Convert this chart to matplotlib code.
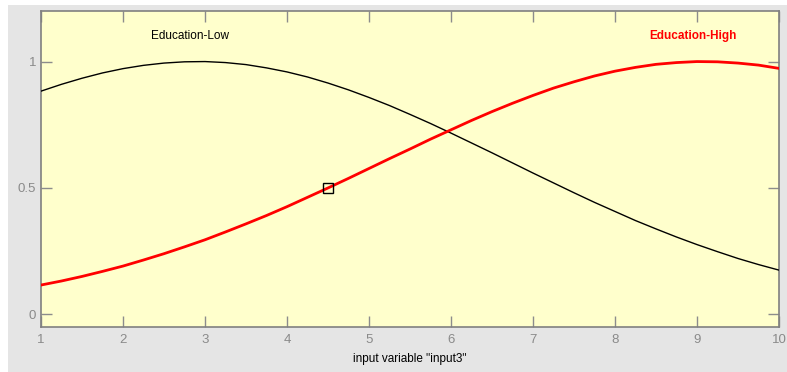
import matplotlib
matplotlib.use("Agg")
import matplotlib.pyplot as plt
from matplotlib.patches import Rectangle

x_vals = [1.0, 1.25, 1.5, 1.75, 2.0, 2.25, 2.5, 2.75, 3.0, 3.25, 3.5, 3.75,
          4.0, 4.25, 4.5, 4.75, 5.0, 5.25, 5.5, 5.75, 6.0, 6.25, 6.5, 6.75,
          7.0, 7.25, 7.5, 7.75, 8.0, 8.25, 8.5, 8.75, 9.0, 9.25, 9.5, 9.75, 10.0]
edu_low = [0.883, 0.910, 0.934, 0.955, 0.972, 0.985, 0.994, 0.999, 1.000, 0.996,
           0.988, 0.975, 0.959, 0.939, 0.915, 0.888, 0.858, 0.826, 0.791, 0.755,
           0.717, 0.678, 0.639, 0.599, 0.559, 0.520, 0.481, 0.443, 0.407, 0.371,
           0.338, 0.306, 0.276, 0.248, 0.221, 0.197, 0.175]
edu_high = [0.116, 0.132, 0.150, 0.170, 0.191, 0.215, 0.240, 0.267, 0.295, 0.326,
            0.358, 0.391, 0.426, 0.463, 0.500, 0.538, 0.577, 0.616, 0.654, 0.693,
            0.730, 0.767, 0.802, 0.835, 0.866, 0.895, 0.920, 0.943, 0.962, 0.977,
            0.989, 0.996, 1.000, 0.999, 0.994, 0.986, 0.973]
marker_point = (4.5, 0.5)
label_low = "Education-Low"
label_high = "Education-High"
label_low_pos = (2.82, 1.10)
label_high_pos = (8.95, 1.10)
x_ticks = [1, 2, 3, 4, 5, 6, 7, 8, 9, 10]
y_ticks = [0, 0.5, 1]
y_tick_labels = ["0", "0.5", "1"]
xlabel = 'input variable "input3"'

plt.rcParams['font.family'] = ['Liberation Sans', 'DejaVu Sans']

W, H = 787, 372
fig = plt.figure(figsize=(W / 100, H / 100), dpi=100, facecolor='#e5e5e5')
# white screenshot margins (left and top)
fig.patches.append(Rectangle((0, 0), 8 / W, 1, transform=fig.transFigure,
                             facecolor='white', edgecolor='none'))
fig.patches.append(Rectangle((0, (H - 5) / H), 1, 5 / H, transform=fig.transFigure,
                             facecolor='white', edgecolor='none'))

ax = fig.add_axes([41 / W, 1 - 327 / H, (779 - 41) / W, (327 - 11) / H])
ax.set_facecolor('#ffffcc')
ax.plot(x_vals, edu_low, color='black', lw=1.0, zorder=3)
ax.plot(x_vals, edu_high, color='#ff0000', lw=2.0, zorder=3)
ax.plot([marker_point[0]], [marker_point[1]], marker='s', ms=7.2,
        mfc='none', mec='black', mew=1.0, zorder=4)

ax.text(label_low_pos[0], label_low_pos[1], label_low, ha='center', va='center',
        fontsize=8.5, color='black')
ax.text(label_high_pos[0], label_high_pos[1], label_high, ha='center', va='center',
        fontsize=8.5, color='#ff0000', fontweight='bold')

ax.set_xlim(1, 10)
ax.set_ylim(-0.05, 1.2)
ax.set_xticks(x_ticks)
ax.set_yticks(y_ticks)
ax.set_yticklabels(y_tick_labels)
ax.tick_params(direction='in', length=8, width=1, colors='#8c8c8c',
               labelcolor='#8a8a8a', labelsize=9.5, top=True, right=True)
ax.tick_params(axis='x', pad=5)
ax.tick_params(axis='y', pad=3.5)
for s in ax.spines.values():
    s.set_color('#808080')
    s.set_linewidth(1.2)
ax.set_xlabel(xlabel, fontsize=8.5, color='black', labelpad=5)

fig.savefig('out.png', dpi=100, facecolor=fig.get_facecolor())
